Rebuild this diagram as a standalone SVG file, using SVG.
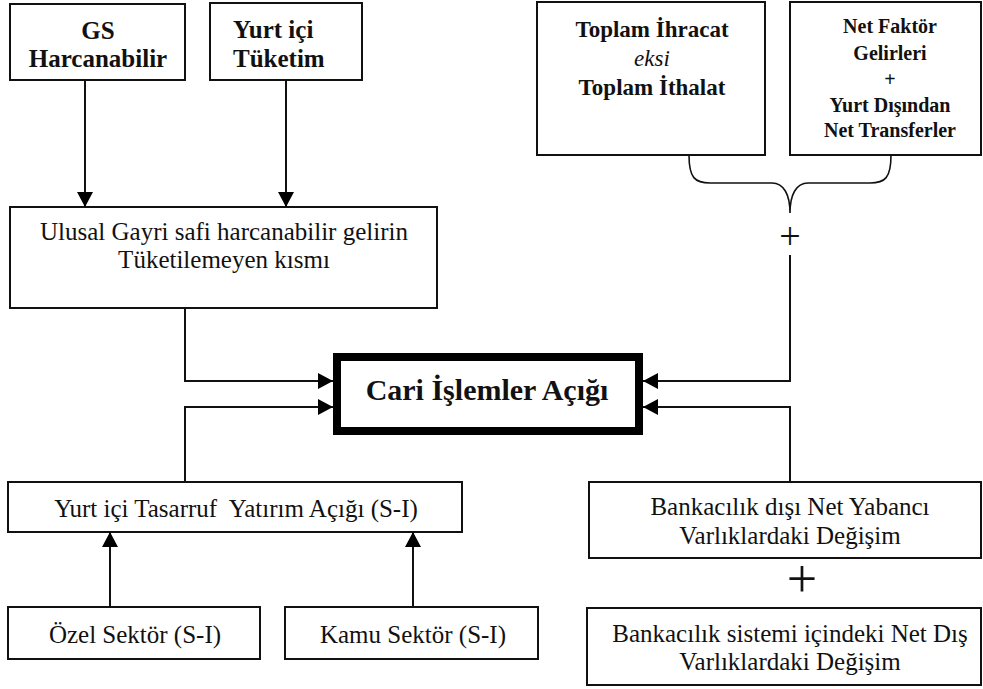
<svg xmlns="http://www.w3.org/2000/svg" width="983" height="689" viewBox="0 0 983 689">
<defs>
<style>
.box{fill:#fff;stroke:#111;stroke-width:2}
.thick{fill:#fff;stroke:#000;stroke-width:8}
.t{font-family:"Liberation Serif","Times New Roman",serif;fill:#111;font-size:25px;text-anchor:middle}
.b{font-weight:bold}
.con{fill:none;stroke:#111;stroke-width:2}
.brace{fill:none;stroke:#111;stroke-width:1.6}
</style>
<marker id="ah" markerUnits="userSpaceOnUse" viewBox="0 0 15 16" refX="15" refY="8" markerWidth="15" markerHeight="16" orient="auto">
<path d="M0,0 L15,8 L0,16 z" fill="#000"/>
</marker>
</defs>
<rect width="983" height="689" fill="#fff"/>

<g id="gs">
<rect class="box" x="10" y="4" width="175" height="76"/>
<text class="t b" x="98" y="39" font-size="23">GS</text>
<text class="t b" x="98" y="67" font-size="23">Harcanabilir</text>
</g>
<g id="yurtici-tuketim">
<rect class="box" x="210" y="3" width="152" height="77"/>
<text class="t b" x="233" y="38" font-size="23" text-anchor="start" style="text-anchor:start">Yurt içi</text>
<text class="t b" x="233" y="67" font-size="23" style="text-anchor:start">Tüketim</text>
</g>
<g id="ihracat">
<rect class="box" x="537" y="2" width="228" height="153"/>
<text class="t b" x="652" y="37" style="font-size:23px">Toplam İhracat</text>
<text class="t" x="652" y="66" style="font-size:23px;font-style:italic">eksi</text>
<text class="t b" x="652" y="95" style="font-size:23px">Toplam İthalat</text>
</g>
<g id="faktor">
<rect class="box" x="790" y="2" width="191" height="153"/>
<text class="t b" x="890" y="33" style="font-size:20px">Net Faktör</text>
<text class="t b" x="890" y="60" style="font-size:20px">Gelirleri</text>
<text class="t b" x="890" y="86" style="font-size:20px">+</text>
<text class="t b" x="890" y="112" style="font-size:20px">Yurt Dışından</text>
<text class="t b" x="890" y="137" style="font-size:20px">Net Transferler</text>
</g>
<g id="ulusal">
<rect class="box" x="10" y="207" width="427" height="101"/>
<text class="t" x="224" y="240">Ulusal Gayri safi harcanabilir gelirin</text>
<text class="t" x="224" y="268">Tüketilemeyen kısmı</text>
</g>
<g id="cari">
<rect class="thick" x="337" y="357" width="302" height="74"/>
<text class="t b" x="487" y="400" style="font-size:30px">Cari İşlemler Açığı</text>
</g>
<g id="tasarruf">
<rect class="box" x="8" y="482" width="454" height="50"/>
<text class="t" x="236" y="517" xml:space="preserve">Yurt içi Tasarruf  Yatırım Açığı (S-I)</text>
</g>
<g id="ozel">
<rect class="box" x="8" y="607" width="252" height="52"/>
<text class="t" x="135" y="643">Özel Sektör (S-I)</text>
</g>
<g id="kamu">
<rect class="box" x="285" y="607" width="253" height="52"/>
<text class="t" x="413" y="643">Kamu Sektör (S-I)</text>
</g>
<g id="bankacilik-disi">
<rect class="box" x="589" y="482" width="392" height="76"/>
<text class="t" x="790" y="515">Bankacılık dışı Net Yabancı</text>
<text class="t" x="790" y="544">Varlıklardaki Değişim</text>
</g>
<g id="bankacilik-sistemi">
<rect class="box" x="587" y="608" width="394" height="77"/>
<text class="t" x="790" y="642">Bankacılık sistemi içindeki Net Dış</text>
<text class="t" x="790" y="670">Varlıklardaki Değişim</text>
</g>

<g id="connectors">
<path class="con" d="M85,80 V207" marker-end="url(#ah)"/>
<path class="con" d="M286,80 V207" marker-end="url(#ah)"/>
<path class="con" d="M185,308 V381 H333" marker-end="url(#ah)"/>
<path class="con" d="M185,482 V407 H333" marker-end="url(#ah)"/>
<path class="con" d="M790,255 V381 H643" marker-end="url(#ah)"/>
<path class="con" d="M790,482 V407 H643" marker-end="url(#ah)"/>
<path class="con" d="M110,607 V532" marker-end="url(#ah)"/>
<path class="con" d="M413,607 V532" marker-end="url(#ah)"/>
<path class="brace" d="M689,155 C689,178 695,183 710,183 H772 C784,183 790,195 790,213 C790,195 796,183 808,183 H870 C885,183 891,178 891,155"/>
<text class="t" x="790" y="249" style="font-size:38px">+</text>
<text class="t" x="802" y="597" style="font-size:54px">+</text>
</g>
</svg>
